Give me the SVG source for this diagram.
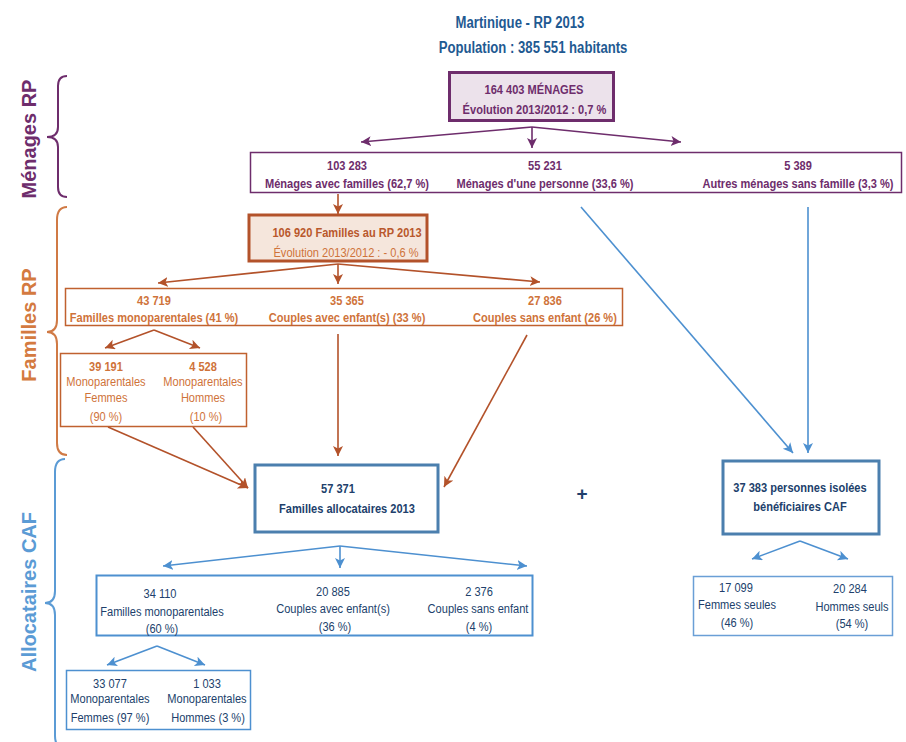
<svg xmlns="http://www.w3.org/2000/svg" width="906" height="742" viewBox="0 0 906 742">
<style>
text{font-family:"Liberation Sans",Arial,sans-serif;text-anchor:middle;font-size:13.5px}
.b{font-weight:bold}
.title{font-size:16px;font-weight:bold;fill:#1f5a92}
.plus{font-size:19px}
.lab{font-family:"Liberation Sans",Arial,sans-serif;font-weight:bold;font-size:20px}
.pu{fill:#6e2d6c}
.or{fill:#cf733a}
.ord{fill:#b9582c}
.bl{fill:#213f6c}
.brace{fill:none;stroke-width:2}
.cp{stroke:#6e2d6c;stroke-width:1.6;fill:none}
.co{stroke:#b3522a;stroke-width:1.6;fill:none}
.cb{stroke:#4d90d0;stroke-width:1.6;fill:none}
</style>
<defs>
<marker id="ap" markerUnits="userSpaceOnUse" markerWidth="12" markerHeight="12" refX="10" refY="5" orient="auto"><path d="M0,0 L10,5 L0,10 L2.5,5 Z" fill="#6e2d6c"/></marker>
<marker id="ao" markerUnits="userSpaceOnUse" markerWidth="12" markerHeight="12" refX="10" refY="5" orient="auto"><path d="M0,0 L10,5 L0,10 L2.5,5 Z" fill="#b3522a"/></marker>
<marker id="ab" markerUnits="userSpaceOnUse" markerWidth="12" markerHeight="12" refX="10" refY="5" orient="auto"><path d="M0,0 L10,5 L0,10 L2.5,5 Z" fill="#4d90d0"/></marker>
</defs>

<g id="titles">
<text class="title" transform="translate(520,28) scale(0.82,1)">Martinique - RP 2013</text>
<text class="title" transform="translate(533,53) scale(0.82,1)">Population : 385 551 habitants</text>
</g>

<g id="labels">
<path class="brace" stroke="#6e2d6c" d="M67,76 Q58,76 58,86 L58,127 Q58,137 47,137 Q58,137 58,147 L58,187 Q58,197 67,197"/>
<text class="lab pu" transform="translate(29,139) rotate(-90)" dominant-baseline="central">Ménages RP</text>
<path class="brace" stroke="#d07a45" d="M67,207 Q57,207 57,220 L57,320 Q57,332 47,332 Q57,332 57,344 L57,443 Q57,455 67,455"/>
<text class="lab" fill="#d47a40" transform="translate(29,325) rotate(-90)" dominant-baseline="central">Familles RP</text>
<path class="brace" stroke="#5b9bd5" d="M65,459 Q55,459 55,472 L55,591 Q55,603 45,603 Q55,603 55,615 L55,736 Q55,748 65,748"/>
<text class="lab" fill="#5b9bd5" transform="translate(29,592) rotate(-90)" dominant-baseline="central">Allocataires CAF</text>
</g>

<g id="connectors">
<path class="cp" d="M532,127 L361,142" marker-end="url(#ap)"/>
<path class="cp" d="M532,127 L532,148" marker-end="url(#ap)"/>
<path class="cp" d="M532,127 L681,142" marker-end="url(#ap)"/>
<path class="co" d="M338,194 L338,214" marker-end="url(#ao)"/>
<path class="co" d="M338,264 L158,283" marker-end="url(#ao)"/>
<path class="co" d="M338,264 L338,284" marker-end="url(#ao)"/>
<path class="co" d="M338,264 L540,282" marker-end="url(#ao)"/>
<path class="co" d="M154,330 L105,348" marker-end="url(#ao)"/>
<path class="co" d="M154,330 L200,348" marker-end="url(#ao)"/>
<path class="co" d="M108,427 L248,488" marker-end="url(#ao)"/>
<path class="co" d="M193,427 L248,488" marker-end="url(#ao)"/>
<path class="co" d="M338,334 L338,456" marker-end="url(#ao)"/>
<path class="co" d="M527,335 L444,487" marker-end="url(#ao)"/>
<path class="cb" d="M581,207 L793,453" marker-end="url(#ab)"/>
<path class="cb" d="M808,207 L808,453" stroke-width="2" marker-end="url(#ab)"/>
<path class="cb" d="M340,546 L163,566" marker-end="url(#ab)"/>
<path class="cb" d="M340,546 L340,568" marker-end="url(#ab)"/>
<path class="cb" d="M340,546 L527,566" marker-end="url(#ab)"/>
<path class="cb" d="M157,646 L107,665" marker-end="url(#ab)"/>
<path class="cb" d="M157,646 L205,665" marker-end="url(#ab)"/>
<path class="cb" d="M800,541 L752,559" marker-end="url(#ab)"/>
<path class="cb" d="M800,541 L848,559" marker-end="url(#ab)"/>
</g>

<g id="menages">
<rect x="449.5" y="72.5" width="164" height="48" fill="#ece2eb" stroke="#6e2d6c" stroke-width="3"/>
<text class="b pu" transform="translate(534,94) scale(0.82,1)">164 403 MÉNAGES</text>
<text class="b pu" transform="translate(534.5,114) scale(0.82,1)">Évolution 2013/2012 : 0,7 %</text>
</g>

<g id="menages-types">
<rect x="250.5" y="152.5" width="651" height="40" fill="#fff" stroke="#6e2d6c" stroke-width="1.5"/>
<text class="b pu" transform="translate(347,170) scale(0.82,1)">103 283</text>
<text class="b pu" transform="translate(347,188) scale(0.82,1)">Ménages avec familles (62,7 %)</text>
<text class="b pu" transform="translate(545,170) scale(0.82,1)">55 231</text>
<text class="b pu" transform="translate(545,188) scale(0.82,1)">Ménages d'une personne (33,6 %)</text>
<text class="b pu" transform="translate(798,170) scale(0.82,1)">5 389</text>
<text class="b pu" transform="translate(798,188) scale(0.82,1)">Autres ménages sans famille (3,3 %)</text>
</g>

<g id="familles">
<rect x="249" y="215" width="178" height="46" fill="#f5e6dc" stroke="#b3522a" stroke-width="3"/>
<text class="b ord" transform="translate(347,237) scale(0.82,1)">106 920 Familles au RP 2013</text>
<text class="or" transform="translate(346,257) scale(0.82,1)">Évolution 2013/2012 : - 0,6 %</text>
</g>

<g id="familles-types">
<rect x="65.5" y="288.5" width="557" height="37" fill="#fff" stroke="#c0612f" stroke-width="1.5"/>
<text class="b or" transform="translate(154,305) scale(0.82,1)">43 719</text>
<text class="b or" transform="translate(154,322) scale(0.82,1)">Familles monoparentales (41 %)</text>
<text class="b or" transform="translate(347,305) scale(0.82,1)">35 365</text>
<text class="b or" transform="translate(347,322) scale(0.82,1)">Couples avec enfant(s) (33 %)</text>
<text class="b or" transform="translate(545,305) scale(0.82,1)">27 836</text>
<text class="b or" transform="translate(545,322) scale(0.82,1)">Couples sans enfant (26 %)</text>
</g>

<g id="familles-mono">
<rect x="60.5" y="353.5" width="186" height="73" fill="#fff" stroke="#c0612f" stroke-width="1.5"/>
<text class="b or" transform="translate(106,371) scale(0.82,1)">39 191</text>
<text class="or" transform="translate(106,386) scale(0.82,1)">Monoparentales</text>
<text class="or" transform="translate(106,402) scale(0.82,1)">Femmes</text>
<text class="or" transform="translate(106,421) scale(0.82,1)">(90 %)</text>
<text class="b or" transform="translate(203,371) scale(0.82,1)">4 528</text>
<text class="or" transform="translate(203,386) scale(0.82,1)">Monoparentales</text>
<text class="or" transform="translate(203,402) scale(0.82,1)">Hommes</text>
<text class="or" transform="translate(206,421) scale(0.82,1)">(10 %)</text>
</g>

<g id="allocataires">
<rect x="255" y="465" width="183" height="67" fill="#fff" stroke="#4b7fae" stroke-width="3"/>
<text class="b bl" transform="translate(338,493) scale(0.82,1)">57 371</text>
<text class="b bl" transform="translate(347,513) scale(0.82,1)">Familles allocataires 2013</text>
</g>

<g id="plus"><text class="b bl plus" x="582" y="500">+</text></g>

<g id="isolees">
<rect x="723" y="461" width="156" height="73" fill="#fff" stroke="#4b7fae" stroke-width="3"/>
<text class="b bl" transform="translate(800,492) scale(0.82,1)">37 383 personnes isolées</text>
<text class="b bl" transform="translate(800,511) scale(0.82,1)">bénéficiaires CAF</text>
</g>

<g id="caf-types">
<rect x="96.5" y="575.5" width="436" height="60" fill="#fff" stroke="#4d90d0" stroke-width="2"/>
<text class="bl" transform="translate(160,598) scale(0.82,1)">34 110</text>
<text class="bl" transform="translate(162,616) scale(0.82,1)">Familles monoparentales</text>
<text class="bl" transform="translate(162,633) scale(0.82,1)">(60 %)</text>
<text class="bl" transform="translate(333,596) scale(0.82,1)">20 885</text>
<text class="bl" transform="translate(333,613) scale(0.82,1)">Couples avec enfant(s)</text>
<text class="bl" transform="translate(335,631) scale(0.82,1)">(36 %)</text>
<text class="bl" transform="translate(479,596) scale(0.82,1)">2 376</text>
<text class="bl" transform="translate(478,613) scale(0.82,1)">Couples sans enfant</text>
<text class="bl" transform="translate(479,631) scale(0.82,1)">(4 %)</text>
</g>

<g id="caf-mono">
<rect x="66.5" y="670.5" width="184" height="59" fill="#fff" stroke="#4d90d0" stroke-width="1.5"/>
<text class="bl" transform="translate(110,688) scale(0.82,1)">33 077</text>
<text class="bl" transform="translate(110,703) scale(0.82,1)">Monoparentales</text>
<text class="bl" transform="translate(110,722) scale(0.82,1)">Femmes (97 %)</text>
<text class="bl" transform="translate(207,688) scale(0.82,1)">1 033</text>
<text class="bl" transform="translate(207,703) scale(0.82,1)">Monoparentales</text>
<text class="bl" transform="translate(208,722) scale(0.82,1)">Hommes (3 %)</text>
</g>

<g id="isolees-sexe">
<rect x="693.5" y="576.5" width="199" height="59" fill="#fff" stroke="#6a9fd6" stroke-width="1.5"/>
<text class="bl" transform="translate(736,592) scale(0.82,1)">17 099</text>
<text class="bl" transform="translate(737,609) scale(0.82,1)">Femmes seules</text>
<text class="bl" transform="translate(737,627) scale(0.82,1)">(46 %)</text>
<text class="bl" transform="translate(850,593) scale(0.82,1)">20 284</text>
<text class="bl" transform="translate(852,611) scale(0.82,1)">Hommes seuls</text>
<text class="bl" transform="translate(852,628) scale(0.82,1)">(54 %)</text>
</g>
</svg>
